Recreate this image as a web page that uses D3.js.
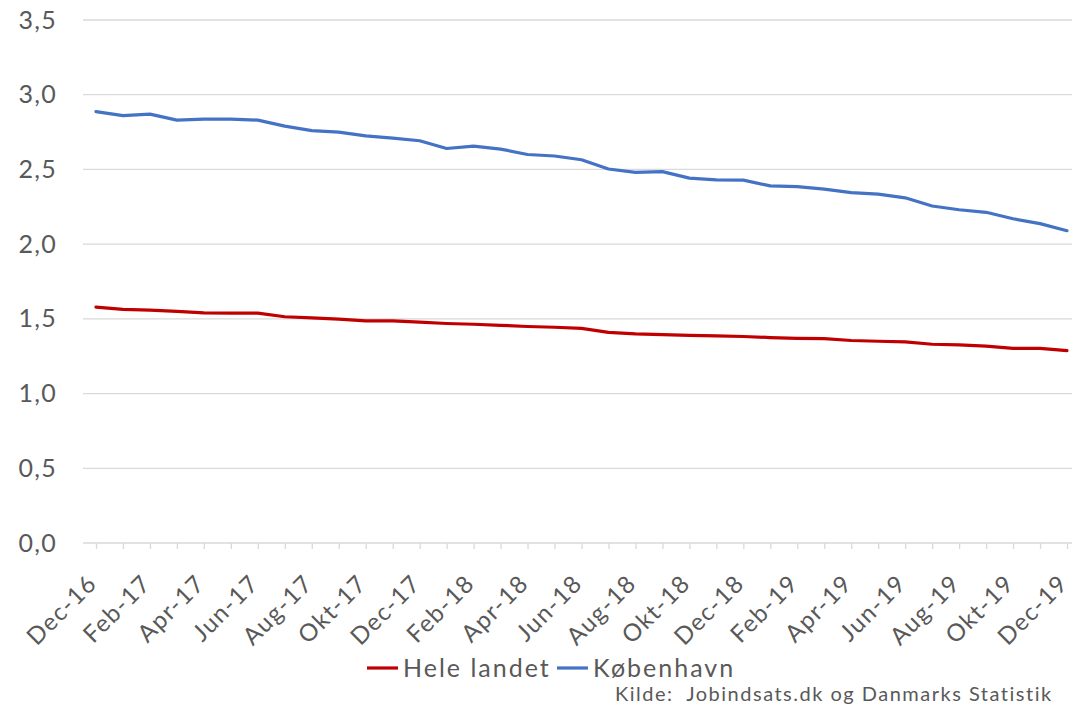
<!DOCTYPE html>
<html>
<head>
<meta charset="utf-8">
<script src="https://cdn.jsdelivr.net/npm/d3@7"></script>
<style>
  html, body { margin: 0; padding: 0; background: #fff; }
  svg { display: block; font-family: Lato, "Open Sans", sans-serif; }
</style>
</head>
<body>
<svg id="chart" width="1074" height="706"></svg>
<script>
const months = [
  "Dec-16","Jan-17","Feb-17","Mar-17","Apr-17","Maj-17","Jun-17","Jul-17","Aug-17","Sep-17","Okt-17","Nov-17",
  "Dec-17","Jan-18","Feb-18","Mar-18","Apr-18","Maj-18","Jun-18","Jul-18","Aug-18","Sep-18","Okt-18","Nov-18",
  "Dec-18","Jan-19","Feb-19","Mar-19","Apr-19","Maj-19","Jun-19","Jul-19","Aug-19","Sep-19","Okt-19","Nov-19",
  "Dec-19"
];
const heleLandet = [
  1.578,1.563,1.558,1.550,1.540,1.538,1.538,1.514,1.507,1.498,1.487,1.487,
  1.478,1.469,1.464,1.457,1.449,1.444,1.436,1.410,1.400,1.395,1.390,1.386,
  1.382,1.375,1.370,1.368,1.355,1.350,1.346,1.330,1.326,1.317,1.303,1.303,
  1.288
];
const kobenhavn = [
  2.887,2.860,2.870,2.830,2.837,2.837,2.830,2.790,2.760,2.750,2.725,2.710,
  2.692,2.640,2.656,2.636,2.600,2.590,2.565,2.503,2.480,2.485,2.442,2.430,
  2.428,2.390,2.385,2.368,2.345,2.335,2.310,2.255,2.230,2.213,2.170,2.137,
  2.090
];
const yTicks = [0, 0.5, 1.0, 1.5, 2.0, 2.5, 3.0, 3.5];
const seriesNames = ["Hele landet", "København"];
const seriesColors = ["#C00000", "#4472C4"];
const sourceText = "Kilde:  Jobindsats.dk og Danmarks Statistik";

const svg = d3.select("#chart");
const plot = { left: 83, right: 1072, top: 20, bottom: 543 };
const textColor = "#595959";

const x = d3.scalePoint().domain(months).range([96, 1067]);
const y = d3.scaleLinear().domain([0, 3.5]).range([plot.bottom, plot.top]);
const fmt = v => d3.format(".1f")(v).replace(".", ",");

// gridlines
svg.append("g").selectAll("line").data(yTicks.filter(d => d > 0)).join("line")
  .attr("x1", plot.left).attr("x2", plot.right)
  .attr("y1", d => y(d)).attr("y2", d => y(d))
  .attr("stroke", "#D9D9D9").attr("stroke-width", 1.3);

// y axis labels
const yAxis = d3.axisLeft(y).tickValues(yTicks).tickFormat(fmt).tickSize(0).tickPadding(0);
const gy = svg.append("g").attr("transform", "translate(57,0)").call(yAxis);
gy.select(".domain").remove();
gy.selectAll("text").attr("fill", textColor).style("font-size", "25px")
  .style("letter-spacing", "1.3px")
  .style("font-family", "Lato, sans-serif");

// x axis
const xAxis = d3.axisBottom(x).tickSize(6).tickPadding(4)
  .tickFormat((d, i) => i % 2 === 0 ? d : "");
const gx = svg.append("g").attr("transform", `translate(0,${plot.bottom})`).call(xAxis);
gx.select(".domain").attr("d", `M${plot.left},0H${plot.right}`).attr("stroke", "#D9D9D9").attr("stroke-width", 1.3);
gx.selectAll(".tick line").attr("stroke", "#D9D9D9").attr("stroke-width", 1.3);
gx.selectAll("text")
  .attr("fill", textColor).style("font-size", "24px").style("font-family", "Lato, sans-serif")
  .style("letter-spacing", "1.4px")
  .attr("text-anchor", "end")
  .attr("x", 0).attr("y", 0)
  .attr("dy", "0.35em")
  .attr("transform", "translate(-4,36) rotate(-45)");

// lines
const line = d3.line().x((d, i) => x(months[i])).y(d => y(d));
[heleLandet, kobenhavn].forEach((s, k) => {
  svg.append("path").datum(s)
    .attr("fill", "none").attr("stroke", seriesColors[k])
    .attr("stroke-width", 3.2).attr("stroke-linejoin", "round").attr("stroke-linecap", "round")
    .attr("d", line);
});

// legend
const legend = svg.append("g").attr("transform", "translate(367,668)");
const legX = [0, 190];
seriesNames.forEach((n, k) => {
  const g = legend.append("g").attr("transform", `translate(${legX[k]},0)`);
  g.append("line").attr("x1", 0).attr("x2", 31).attr("y1", 0).attr("y2", 0)
    .attr("stroke", seriesColors[k]).attr("stroke-width", 3.2);
  g.append("text").attr("x", 36).attr("y", 0).attr("dy", "0.35em")
    .attr("fill", textColor).style("font-size", "25px").style("letter-spacing", "2px").text(n);
});

// source
svg.append("text").attr("x", 615).attr("y", 701).attr("text-anchor", "start")
  .attr("fill", textColor).style("font-size", "20px").style("letter-spacing", "1.5px")
  .style("white-space", "pre").text(sourceText);
</script>
</body>
</html>
